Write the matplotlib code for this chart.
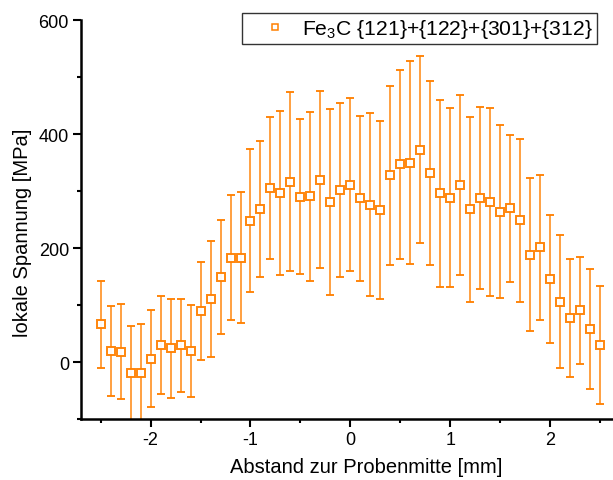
import matplotlib
matplotlib.use("Agg")
import matplotlib.pyplot as plt
from matplotlib.lines import Line2D
from matplotlib.ticker import MultipleLocator

plt.rcParams['font.family'] = ['Liberation Sans', 'DejaVu Sans']
plt.rcParams['mathtext.fontset'] = 'custom'
plt.rcParams['mathtext.rm'] = 'Liberation Sans'
plt.rcParams['mathtext.default'] = 'regular'
plt.rcParams['axes.unicode_minus'] = False

# position along the sample [mm]
pos = [-2.5, -2.4, -2.3, -2.2, -2.1, -2.0, -1.9, -1.8, -1.7, -1.6,
       -1.5, -1.4, -1.3, -1.2, -1.1, -1.0, -0.9, -0.8, -0.7, -0.6,
       -0.5, -0.4, -0.3, -0.2, -0.1, 0.0, 0.1, 0.2, 0.3, 0.4,
       0.5, 0.6, 0.7, 0.8, 0.9, 1.0, 1.1, 1.2, 1.3, 1.4,
       1.5, 1.6, 1.7, 1.8, 1.9, 2.0, 2.1, 2.2, 2.3, 2.4, 2.5]

# local stress [MPa]
stress = [66, 19, 18, -20, -19, 6, 29, 24, 29, 19,
          89, 111, 149, 183, 183, 248, 268, 305, 296, 316,
          290, 291, 320, 281, 302, 311, 287, 276, 266, 328,
          347, 350, 372, 332, 296, 288, 311, 268, 288, 280,
          264, 270, 249, 188, 201, 146, 106, 77, 91, 58, 30]

# error [MPa]
err = [76, 79, 83, 84, 86, 85, 86, 87, 82, 81,
       86, 102, 100, 110, 115, 126, 119, 125, 144, 157,
       136, 148, 155, 163, 153, 152, 145, 160, 156, 157,
       166, 178, 164, 161, 164, 157, 158, 162, 160, 165,
       151, 129, 143, 134, 127, 112, 117, 104, 94, 106, 104]

label = 'Fe$_3$C {121}+{122}+{301}+{312}'
orange = '#ff8000'

fig = plt.figure(figsize=(6.13, 4.81), dpi=100)
ax = fig.add_axes([0.1317, 0.1268, 0.8683, 0.8295])

ax.errorbar(pos, stress, yerr=err, fmt='s', color=orange, ecolor=orange,
            elinewidth=1.1, capsize=2.8, capthick=1.1,
            markersize=5.5, markeredgewidth=1.4, markerfacecolor='white',
            markeredgecolor=orange, alpha=0.95)

ax.set_xlim(-2.7, 2.63)
ax.set_ylim(-100, 600)
ax.xaxis.set_major_locator(MultipleLocator(1))
ax.xaxis.set_minor_locator(MultipleLocator(0.5))
ax.yaxis.set_major_locator(MultipleLocator(200))
ax.yaxis.set_minor_locator(MultipleLocator(100))

for s in ['top', 'right']:
    ax.spines[s].set_visible(False)
for s in ['left', 'bottom']:
    ax.spines[s].set_linewidth(1.8)

ax.tick_params(which='major', direction='out', length=5.5, width=1.5,
               labelsize=13, pad=3)
ax.tick_params(which='minor', direction='out', length=3, width=1.5)

ax.set_xlabel('Abstand zur Probenmitte [mm]', fontsize=14.5)
ax.set_ylabel('lokale Spannung [MPa]', fontsize=14.5)
ax.xaxis.set_label_coords(0.536, -0.095)
ax.yaxis.set_label_coords(-0.092, 0.469)

handle = Line2D([], [], marker='s', linestyle='none', markersize=5,
                markeredgewidth=1.1, markerfacecolor='white',
                markeredgecolor=orange)
leg = ax.legend([handle], [label], loc='upper right',
                bbox_to_anchor=(0.970, 1.0175), fontsize=15.2,
                fancybox=False, framealpha=1, edgecolor='#333333',
                borderpad=0.2, handletextpad=-0.08, handlelength=2.73,
                borderaxespad=0)
leg.get_frame().set_linewidth(1.0)

fig.savefig('out.png', dpi=100)
